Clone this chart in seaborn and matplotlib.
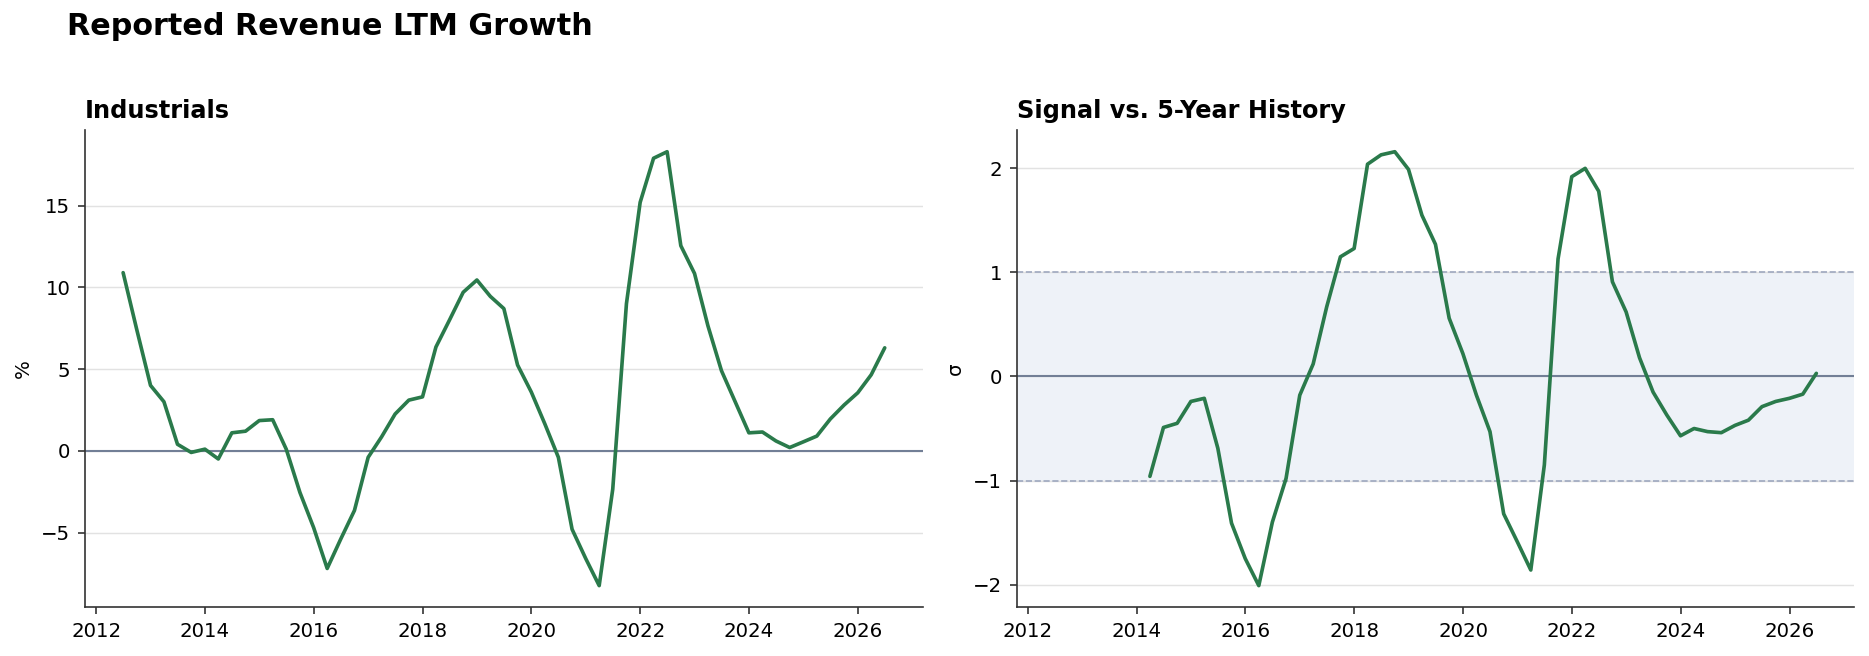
import matplotlib
matplotlib.use("Agg")
import matplotlib.pyplot as plt
import numpy as np
import pandas as pd
import seaborn as sns

# quarterly observations, Q2 2012 .. Q2 2026
dates = pd.date_range("2012-06-30", periods=57, freq="QE")

ltm_growth = [
    10.9, 7.4, 4.0, 3.0, 0.4, -0.1, 0.1, -0.5, 1.1, 1.2,
    1.85, 1.9, 0.1, -2.55, -4.7, -7.2, -5.4, -3.65, -0.4, 0.85,
    2.25, 3.1, 3.3, 6.35, 8.0, 9.7, 10.45, 9.45, 8.7, 5.25,
    3.6, 1.65, -0.4, -4.8, -6.6, -8.25, -2.35, 9.0, 15.2, 17.9,
    18.3, 12.55, 10.85, 7.65, 4.9, 3.0, 1.1, 1.15, 0.6, 0.2,
    0.55, 0.9, 1.95, 2.8, 3.55, 4.65, 6.3,
]

zscore_5y = [np.nan] * 7 + [
    -0.96, -0.49, -0.45, -0.24, -0.21, -0.69, -1.41, -1.75, -2.01, -1.40,
    -0.98, -0.18, 0.12, 0.67, 1.15, 1.23, 2.04, 2.13, 2.16, 1.99,
    1.55, 1.27, 0.56, 0.22, -0.18, -0.53, -1.32, -1.59, -1.86, -0.85,
    1.13, 1.92, 2.00, 1.78, 0.91, 0.62, 0.18, -0.15, -0.37, -0.57,
    -0.50, -0.53, -0.54, -0.47, -0.42, -0.29, -0.24, -0.21, -0.17, 0.03,
]

df = pd.DataFrame({"date": dates, "growth": ltm_growth, "z": zscore_5y})

LINE = "#2a7a4b"
ZERO = "#727f96"
BAND = "#eef2f8"
BAND_EDGE = "#9ea8bf"

sns.set_style("ticks")
plt.rcParams["font.family"] = ["DejaVu Sans"]
plt.rcParams["text.color"] = "black"
plt.rcParams["axes.labelcolor"] = "black"

fig, (ax1, ax2) = plt.subplots(1, 2, sharex=True, figsize=(1869 / 150, 656 / 150), dpi=150)
fig.subplots_adjust(left=0.0455, right=0.9922, bottom=0.0742, top=0.8018, wspace=0.112)

# left: raw LTM growth
ax1.grid(axis="y", color="#e2e2e2", lw=0.7)
ax1.axhline(0, color=ZERO, lw=1.0, zorder=2)
sns.lineplot(data=df, x="date", y="growth", ax=ax1, color=LINE, lw=1.75, zorder=3)
ax1.set_title("Industrials", loc="left", fontweight="bold", fontsize=11.5)
ax1.set_ylabel("%", fontsize=9.5)
ax1.set_xlabel("")

# right: z-score vs trailing 5 years
ax2.grid(axis="y", color="#e2e2e2", lw=0.7)
ax2.axhspan(-1, 1, color=BAND, lw=0, zorder=0)
ax2.axhline(1, color=BAND_EDGE, lw=0.8, ls="--", zorder=1)
ax2.axhline(-1, color=BAND_EDGE, lw=0.8, ls="--", zorder=1)
ax2.axhline(0, color=ZERO, lw=1.0, zorder=2)
sns.lineplot(data=df, x="date", y="z", ax=ax2, color=LINE, lw=1.75, zorder=3)
ax2.set_title("Signal vs. 5-Year History", loc="left", fontweight="bold", fontsize=11.5)
ax2.set_ylabel("σ", fontsize=9.5)
ax2.set_xlabel("")

for ax in (ax1, ax2):
    ax.tick_params(labelsize=9.5, colors="#333333", labelcolor="black")
    for s in ("left", "bottom"):
        ax.spines[s].set_color("#333333")
sns.despine(fig=fig)

fig.text(0.036, 0.96, "Reported Revenue LTM Growth", fontsize=14.5, fontweight="bold",
         color="black", va="center", ha="left")

fig.savefig("out.png", dpi=150)
